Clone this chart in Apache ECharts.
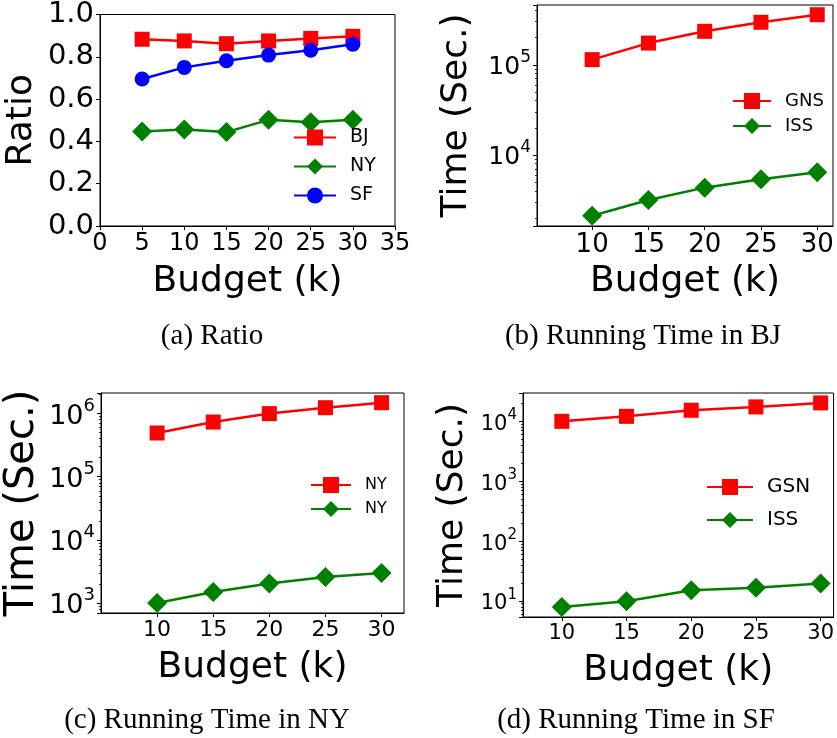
<!DOCTYPE html>
<html>
<head>
<meta charset="utf-8">
<script src="https://cdn.jsdelivr.net/npm/echarts@6/dist/echarts.min.js"></script>
<style>
html, body { margin: 0; padding: 0; background: #fff; }
#chart { width: 837px; height: 738px; }
</style>
</head>
<body>
<div id="chart"></div>
<script>
// x values
var budgetA = [5, 10, 15, 20, 25, 30];
var budget = [10, 15, 20, 25, 30];
var xTicks = [10, 15, 20, 25, 30];

// (a) ratio
var ratioBJ = [0.883, 0.875, 0.862, 0.875, 0.887, 0.897];
var ratioNY = [0.447, 0.456, 0.444, 0.502, 0.491, 0.502];
var ratioSF = [0.695, 0.750, 0.781, 0.808, 0.831, 0.859];

// (b) running time BJ
var bjGNS = [114000, 174000, 235000, 296000, 359000];
var bjISS = [2120, 3160, 4340, 5370, 6430];
// (c) running time NY
var nyGNS = [493000, 736000, 1000000, 1240000, 1490000];
var nyISS = [1000, 1490, 2030, 2590, 3000];
// (d) running time SF
var sfGSN = [10000, 12100, 15300, 17400, 20300];
var sfISS = [7.9, 9.9, 15.1, 16.7, 19.5];

var legendA = ['BJ', 'NY', 'SF'];
var legendB = ['GNS', 'ISS'];
var legendC = ['NY', 'NY'];
var legendD = ['GSN', 'ISS'];
var captions = ['(a) Ratio', '(b) Running Time in BJ', '(c) Running Time in NY', '(d) Running Time in SF'];

var RED = '#ff0000', GREEN = '#008000', BLUE = '#0000ff';
var FONT = 'DejaVu Sans';
var CAPFONT = '29px "Liberation Serif"';

// series names must be unique, legend shows the real label
var labelOf = {
	a0: legendA[0], a1: legendA[1], a2: legendA[2],
	b0: legendB[0], b1: legendB[1],
	c0: legendC[0], c1: legendC[1],
	d0: legendD[0], d1: legendD[1]
};

function pairs(xs, ys) {
	var out = [];
	for (var i = 0; i < xs.length; i++) out.push([xs[i], ys[i]]);
	return out;
}

// minor tick positions 2..9 x 10^n for a log axis
function minorTicks(lo, hi) {
	var out = [];
	for (var e = lo; e <= hi; e++) {
		for (var m = 2; m <= 9; m++) out.push(m * Math.pow(10, e));
	}
	return out;
}

function mkSeries(name, idx, xs, ys, color, symbol, size) {
	return {
		name: name,
		type: 'line',
		xAxisIndex: idx,
		yAxisIndex: idx,
		data: pairs(xs, ys),
		symbol: symbol,
		symbolSize: size,
		showAllSymbol: true,
		clip: false,
		lineStyle: { color: color, width: 2.5 },
		itemStyle: { color: color },
		emphasis: { disabled: true },
		z: 3
	};
}

function logLabel(base, sup) {
	return {
		color: '#000',
		margin: 6,
		formatter: function(v) {
			var e = Math.log(v) / Math.LN10;
			if (Math.abs(e - Math.round(e)) > 1e-6) return '';
			return '{b|10}{s|' + Math.round(e) + '}';
		},
		rich: {
			b: { fontSize: base, fontFamily: FONT, color: '#000', verticalAlign: 'bottom' },
			s: { fontSize: sup, fontFamily: FONT, color: '#000', verticalAlign: 'top', padding: [0, 0, Math.round(base * 0.55), 0] }
		}
	};
}

function xAxisOf(idx, min, max, fontSize, nameGap) {
	return {
		type: 'value',
		gridIndex: idx,
		min: min,
		max: max,
		name: 'Budget (k)',
		nameLocation: 'middle',
		nameGap: nameGap,
		nameTextStyle: { fontSize: 36, fontFamily: FONT, color: '#000' },
		axisLine: { show: true, lineStyle: { color: '#000', width: 1 } },
		axisTick: { show: true, length: 4, customValues: xTicks, lineStyle: { color: '#000' } },
		axisLabel: { customValues: xTicks, fontSize: fontSize, fontFamily: FONT, color: '#000', margin: 6 },
		splitLine: { show: false }
	};
}

function yLogOf(idx, min, max, base, sup, nameSize, nameGap) {
	return {
		type: 'log',
		logBase: 10,
		gridIndex: idx,
		min: min,
		max: max,
		name: 'Time (Sec.)',
		nameLocation: 'middle',
		nameGap: nameGap,
		nameTextStyle: { fontSize: nameSize, fontFamily: FONT, color: '#000' },
		axisLine: { show: true, lineStyle: { color: '#000', width: 1 } },
		axisTick: { show: true, length: 4, lineStyle: { color: '#000' } },
		axisLabel: logLabel(base, sup),
		splitLine: { show: false }
	};
}

// second log axis on the same grid, only for the small minor ticks
function yMinorOf(idx, min, max, lo, hi) {
	return {
		type: 'log',
		logBase: 10,
		gridIndex: idx,
		min: min,
		max: max,
		position: 'left',
		axisLine: { show: false },
		axisTick: { show: true, length: 2, customValues: minorTicks(lo, hi), lineStyle: { color: '#000', width: 0.8 } },
		axisLabel: { show: false },
		splitLine: { show: false }
	};
}

function legendOf(names, left, top, width, gap, fontSize) {
	return {
		data: names,
		orient: 'vertical',
		left: left,
		top: top,
		itemWidth: width,
		itemHeight: 20,
		itemGap: gap,
		padding: 0,
		selectedMode: false,
		formatter: function(n) { return labelOf[n]; },
		textStyle: { fontSize: fontSize, fontFamily: FONT, color: '#000', padding: [0, 0, 0, 9] }
	};
}

var gridStyle = { show: true, borderColor: '#000', borderWidth: 1, backgroundColor: 'transparent' };

var option = {
	animation: false,
	backgroundColor: '#fff',
	grid: [
		Object.assign({ left: 100, top: 13, width: 295, height: 213 }, gridStyle),
		Object.assign({ left: 537, top: 5, width: 296, height: 221 }, gridStyle),
		Object.assign({ left: 101, top: 393, width: 303, height: 220 }, gridStyle),
		Object.assign({ left: 523, top: 393, width: 312, height: 224 }, gridStyle)
	],
	xAxis: [
		{
			type: 'value',
			gridIndex: 0,
			min: 0,
			max: 35,
			interval: 5,
			name: 'Budget (k)',
			nameLocation: 'middle',
			nameGap: 38,
			nameTextStyle: { fontSize: 36, fontFamily: FONT, color: '#000' },
			axisLine: { show: true, lineStyle: { color: '#000', width: 1 } },
			axisTick: { show: true, length: 4, lineStyle: { color: '#000' } },
			axisLabel: { fontSize: 24, fontFamily: FONT, color: '#000', margin: 6 },
			splitLine: { show: false }
		},
		xAxisOf(1, 5.1, 31.4, 26, 38),
		xAxisOf(2, 5, 32, 22, 37),
		xAxisOf(3, 7, 31, 21, 36)
	],
	yAxis: [
		{
			type: 'value',
			gridIndex: 0,
			min: 0,
			max: 1,
			interval: 0.2,
			name: 'Ratio',
			nameLocation: 'middle',
			nameGap: 60,
			nameTextStyle: { fontSize: 36, fontFamily: FONT, color: '#000' },
			axisLine: { show: true, lineStyle: { color: '#000', width: 1 } },
			axisTick: { show: true, length: 4, lineStyle: { color: '#000' } },
			axisLabel: { fontSize: 29, fontFamily: FONT, color: '#000', margin: 6,
				formatter: function(v) { return v.toFixed(1); } },
			splitLine: { show: false }
		},
		yLogOf(1, 1630, 460000, 25, 17, 36, 62),
		yLogOf(2, 695, 2120000, 27, 18, 40, 58),
		yLogOf(3, 5.4, 29700, 21, 15, 36, 52),
		yMinorOf(1, 1630, 460000, 3, 5),
		yMinorOf(2, 695, 2120000, 2, 6),
		yMinorOf(3, 5.4, 29700, 0, 4)
	],
	legend: [
		legendOf(['a0', 'a1', 'a2'], 293, 128, 42, 10, 19),
		legendOf(['b0', 'b1'], 732, 92, 38, 7, 18),
		legendOf(['c0', 'c1'], 310, 477, 40, 8, 16),
		legendOf(['d0', 'd1'], 706, 477, 46, 13, 20)
	],
	series: [
		mkSeries('a0', 0, budgetA, ratioBJ, RED, 'rect', 15),
		mkSeries('a1', 0, budgetA, ratioNY, GREEN, 'diamond', 20),
		mkSeries('a2', 0, budgetA, ratioSF, BLUE, 'circle', 15),
		mkSeries('b0', 1, budget, bjGNS, RED, 'rect', 15),
		mkSeries('b1', 1, budget, bjISS, GREEN, 'diamond', 20),
		mkSeries('c0', 2, budget, nyGNS, RED, 'rect', 15),
		mkSeries('c1', 2, budget, nyISS, GREEN, 'diamond', 20),
		mkSeries('d0', 3, budget, sfGSN, RED, 'rect', 15),
		mkSeries('d1', 3, budget, sfISS, GREEN, 'diamond', 20)
	],
	graphic: [
		{ type: 'text', x: 212, y: 336, style: { text: captions[0], font: CAPFONT, fill: '#000', align: 'center', verticalAlign: 'middle' } },
		{ type: 'text', x: 643, y: 336, style: { text: captions[1], font: CAPFONT, fill: '#000', align: 'center', verticalAlign: 'middle' } },
		{ type: 'text', x: 207, y: 720, style: { text: captions[2], font: CAPFONT, fill: '#000', align: 'center', verticalAlign: 'middle' } },
		{ type: 'text', x: 636, y: 720, style: { text: captions[3], font: CAPFONT, fill: '#000', align: 'center', verticalAlign: 'middle' } }
	]
};

var chart = echarts.init(document.getElementById('chart'), null, { renderer: 'canvas' });
chart.setOption(option);
</script>
</body>
</html>
